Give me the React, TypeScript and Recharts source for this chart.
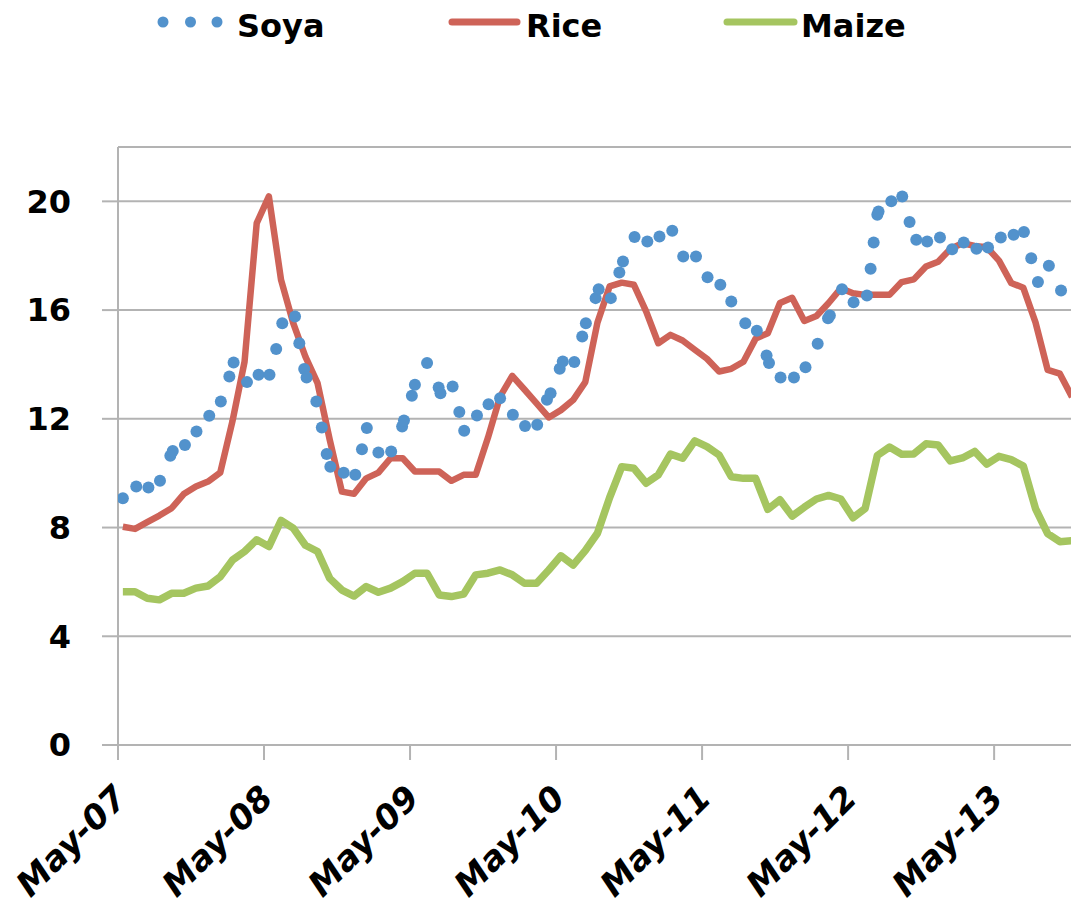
import { ComposedChart, Line, XAxis, YAxis, CartesianGrid, Legend } from "recharts";

// months counted from May-07 (0 = 1 May 2007)
const yearTicks = [0, 12, 24, 36, 48, 60, 72];
const yearLabels = ["May-07", "May-08", "May-09", "May-10", "May-11", "May-12", "May-13"];
const yTicks = [0, 4, 8, 12, 16, 20];

// monthly series, mid-month observations starting May 2007
const monthPos = [
  0.4, 1.4, 2.4, 3.4, 4.4, 5.4, 6.4, 7.4, 8.4, 9.4,
  10.4, 11.4, 12.4, 13.4, 14.4, 15.4, 16.4, 17.4, 18.4, 19.4,
  20.4, 21.4, 22.4, 23.4, 24.4, 25.4, 26.4, 27.4, 28.4, 29.4,
  30.4, 31.4, 32.4, 33.4, 34.4, 35.4, 36.4, 37.4, 38.4, 39.4,
  40.4, 41.4, 42.4, 43.4, 44.4, 45.4, 46.4, 47.4, 48.4, 49.4,
  50.4, 51.4, 52.4, 53.4, 54.4, 55.4, 56.4, 57.4, 58.4, 59.4,
  60.4, 61.4, 62.4, 63.4, 64.4, 65.4, 66.4, 67.4, 68.4, 69.4,
  70.4, 71.4, 72.4, 73.4, 74.4, 75.4, 76.4, 77.4, 78.4,
];

const rice = [
  8.03, 7.95, 8.2, 8.44, 8.71, 9.23, 9.51, 9.69, 10.02, 11.9,
  14.1, 19.2, 20.18, 17.11, 15.52, 14.29, 13.31, 11.23, 9.32, 9.24,
  9.81, 10.02, 10.55, 10.55, 10.06, 10.06, 10.06, 9.72, 9.94, 9.94,
  11.3, 12.82, 13.58, 13.08, 12.57, 12.05, 12.32, 12.69, 13.35, 15.54,
  16.87, 17.01, 16.93, 15.95, 14.78, 15.09, 14.88, 14.54, 14.21, 13.74,
  13.84, 14.1, 14.95, 15.15, 16.26, 16.45, 15.6, 15.78, 16.26, 16.8,
  16.62, 16.56, 16.56, 16.56, 17.03, 17.13, 17.6, 17.78, 18.25, 18.46,
  18.36, 18.31, 17.82, 17.0, 16.82, 15.55, 13.8, 13.66, 12.8,
];

const maize = [
  5.64, 5.64, 5.4, 5.34, 5.58, 5.58, 5.77, 5.85, 6.19, 6.8,
  7.12, 7.55, 7.3, 8.26, 7.98, 7.35, 7.12, 6.13, 5.7, 5.48,
  5.83, 5.62, 5.77, 6.01, 6.32, 6.32, 5.52, 5.46, 5.55, 6.26,
  6.32, 6.44, 6.26, 5.95, 5.95, 6.44, 6.96, 6.62, 7.15, 7.79,
  9.1, 10.24, 10.18, 9.63, 9.94, 10.7, 10.55, 11.19, 10.98, 10.67,
  9.87, 9.81, 9.81, 8.67, 9.02, 8.42, 8.75, 9.05, 9.18, 9.05,
  8.36, 8.7, 10.65, 10.96, 10.7, 10.71, 11.08, 11.04, 10.45, 10.56,
  10.8, 10.33, 10.62, 10.5, 10.26, 8.7, 7.78, 7.48, 7.52,
];

// soya is sampled irregularly
const soyaPos = [
  0.4, 1.5, 2.5, 3.45, 4.3, 4.5, 5.5, 6.45, 7.5, 8.45,
  9.15, 9.5, 10.6, 11.55, 12.45, 13, 13.5, 14.55, 14.9, 15.3,
  15.5, 16.3, 16.75, 17.15, 17.45, 18.55, 19.5, 20.05, 20.45, 21.4,
  22.45, 23.35, 23.5, 24.15, 24.4, 25.4, 26.35, 26.5, 27.5, 28.05,
  28.45, 29.5, 30.45, 31.4, 32.45, 33.45, 34.45, 35.25, 35.55, 36.3,
  36.55, 37.5, 38.15, 38.45, 39.25, 39.5, 40.5, 41.2, 41.5, 42.45,
  43.5, 44.5, 45.55, 46.45, 47.5, 48.45, 49.5, 50.4, 51.55, 52.5,
  53.3, 53.5, 54.45, 55.55, 56.5, 57.5, 58.35, 58.5, 59.5, 60.45,
  61.55, 61.85, 62.1, 62.4, 62.5, 63.55, 64.45, 65.05, 65.6, 66.5,
  67.55, 68.55, 69.5, 70.55, 71.5, 72.55, 73.6, 74.45, 75.05, 75.6,
  76.5, 77.5,
];

const soya = [
  9.08, 9.51, 9.47, 9.72, 10.64, 10.82, 11.04, 11.53, 12.11, 12.64,
  13.56, 14.07, 13.35, 13.62, 13.62, 14.57, 15.52, 15.76, 14.78, 13.83,
  13.52, 12.64, 11.68, 10.71, 10.24, 10.02, 9.94, 10.88, 11.66, 10.76,
  10.8, 11.72, 11.94, 12.85, 13.25, 14.05, 13.15, 12.94, 13.19, 12.25,
  11.56, 12.12, 12.54, 12.76, 12.15, 11.74, 11.78, 12.7, 12.94, 13.84,
  14.11, 14.09, 15.03, 15.52, 16.44, 16.77, 16.44, 17.38, 17.79, 18.69,
  18.52, 18.71, 18.92, 17.97, 17.97, 17.21, 16.93, 16.32, 15.52, 15.24,
  14.33, 14.05, 13.52, 13.52, 13.9, 14.76, 15.7, 15.8, 16.77, 16.29,
  16.54, 17.52, 18.49, 19.51, 19.63, 20.0, 20.18, 19.24, 18.59, 18.52,
  18.67, 18.24, 18.49, 18.26, 18.3, 18.67, 18.77, 18.87, 17.91, 17.03,
  17.63, 16.72,
];

const SOYA = "#5292CC";
const RICE = "#CE6358";
const MAIZE = "#A5C560";
const GRID = "#B3B3B3";
const FONT = "'DejaVu Sans', sans-serif";

const monthly = monthPos.map((t, i) => ({ t, rice: rice[i], maize: maize[i] }));
const soyaData = soyaPos.map((t, i) => ({ t, soya: soya[i] }));

function XTick({ x, y, payload }: any) {
  const label = yearLabels[yearTicks.indexOf(payload.value)];
  return (
    <g transform={`translate(${x + 11},${y + 40})`}>
      <text
        textAnchor="end"
        transform="rotate(-45)"
        fontFamily={FONT}
        fontWeight="bold"
        fontStyle="italic"
        fontSize={34}
        fill="#000"
      >
        {label}
      </text>
    </g>
  );
}

function LegendBox() {
  const textProps = { fontFamily: FONT, fontWeight: "bold", fontSize: 32, fill: "#000" };
  return (
    <svg width={1071} height={60} style={{ display: "block" }}>
      {[163, 190.5, 217].map((cx) => (
        <circle key={cx} cx={cx} cy={22} r={5.5} fill={SOYA} />
      ))}
      <text x={237} y={37} {...textProps}>Soya</text>
      <line x1={452} y1={22} x2={517} y2={22} stroke={RICE} strokeWidth={7} strokeLinecap="round" />
      <text x={526} y={37} {...textProps}>Rice</text>
      <line x1={727} y1={22} x2={794} y2={22} stroke={MAIZE} strokeWidth={7} strokeLinecap="round" />
      <text x={801} y={37} {...textProps}>Maize</text>
    </svg>
  );
}

export default function App() {
  return (
    <div
      style={{
        position: "fixed",
        left: 0,
        top: 0,
        width: 1071,
        height: 917,
        overflow: "hidden",
        background: "#fff",
      }}
    >
      <ComposedChart
        width={1072}
        height={917}
        data={monthly}
        margin={{ top: 87, right: 0, bottom: 0, left: 0 }}
      >
        <Legend
          verticalAlign="top"
          align="left"
          wrapperStyle={{ top: 0, left: 0, width: 1071, height: 60 }}
          content={() => <LegendBox />}
        />
        <CartesianGrid vertical={false} stroke={GRID} strokeWidth={2} />
        <XAxis
          type="number"
          dataKey="t"
          domain={[0, 78.4]}
          ticks={yearTicks}
          interval={0}
          height={172}
          tickSize={15}
          tickMargin={0}
          axisLine={{ stroke: GRID, strokeWidth: 2 }}
          tickLine={{ stroke: GRID, strokeWidth: 2 }}
          tick={<XTick />}
          allowDataOverflow
        />
        <YAxis
          domain={[0, 22]}
          ticks={yTicks}
          interval={0}
          width={118}
          tickSize={16}
          tickMargin={31}
          axisLine={{ stroke: GRID, strokeWidth: 2 }}
          tickLine={{ stroke: GRID, strokeWidth: 2 }}
          tick={{ fontFamily: FONT, fontWeight: "bold", fontSize: 32, fill: "#000" }}
        />
        <Line
          dataKey="maize"
          type="linear"
          stroke={MAIZE}
          strokeWidth={7.5}
          strokeLinejoin="round"
          dot={false}
          activeDot={false}
          isAnimationActive={false}
        />
        <Line
          dataKey="rice"
          type="linear"
          stroke={RICE}
          strokeWidth={6.5}
          strokeLinejoin="round"
          dot={false}
          activeDot={false}
          isAnimationActive={false}
        />
        <Line
          data={soyaData}
          dataKey="soya"
          stroke="none"
          dot={{ r: 6, fill: SOYA, stroke: "none" }}
          activeDot={false}
          isAnimationActive={false}
        />
      </ComposedChart>
    </div>
  );
}
